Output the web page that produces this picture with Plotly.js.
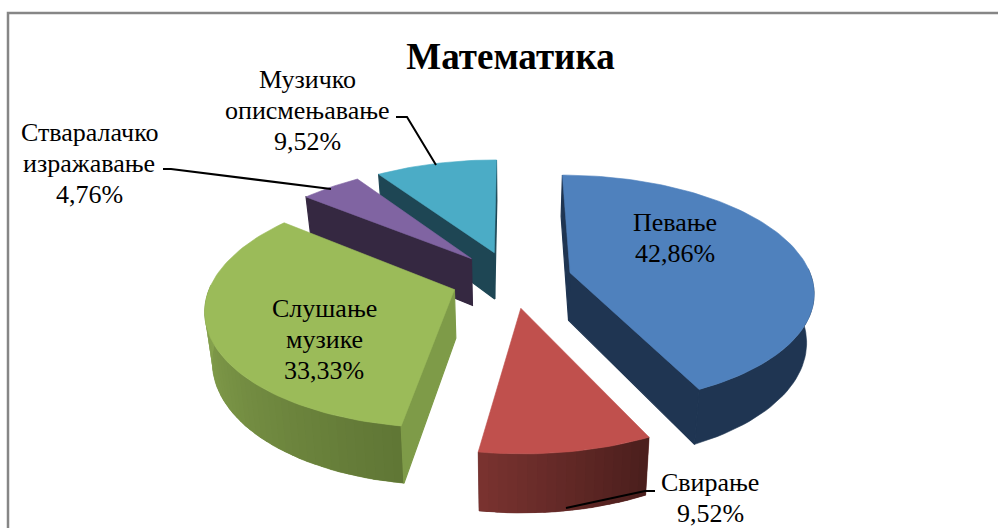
<!DOCTYPE html>
<html><head><meta charset="utf-8">
<script src="https://cdn.plot.ly/plotly-3.0.1.min.js"></script>
<style>html,body{margin:0;padding:0;background:#fff}#c{width:998px;height:528px}</style>
</head><body><div id="c"></div>
<script>
const categories = ["Певање","Свирање","Слушање музике","Музичко описмењавање","Стваралачко изражавање"];
const shares = [42.86, 9.52, 33.33, 9.52, 4.76];
const sliceOrder = [0, 1, 2, 4, 3];
const labelLines = [["Певање"],["Свирање"],["Слушање","музике"],["Музичко","описмењавање"],["Стваралачко","изражавање"]];

const topColors = ["#4F81BD","#C0504D","#9BBB59","#4BACC6","#8064A2"];
const wallColors = ["#1F3552","#5F2A28","#7E9B48","#1E4654","#352841"];
const rimFrom = ["#1F3552","#7A3330","#8AA650","#1E4654","#352841"];
const rimTo = ["#1F3552","#4A1E1C","#5F7635","#1E4654","#352841"];
const labelAt = [[675,222],[710,482],[324,308],[307,79],[89,132]];

// projection of the tilted, exploded disc into the plot's axes
const X0=511.5,Y0=279,RX=242,RY=114,K=0.15,DEPTH=48,EXPLODE=0.25,LINE=31;
const rad=d=>d*Math.PI/180;
function proj(u,v,z){const w=1+K*v,s=1-0.025*z;return [X0+RX*u/w*s,Y0-RY*v/w+DEPTH*z/w];}
function hex(c){return [1,3,5].map(i=>parseInt(c.substr(i,2),16));}
function mix(a,b,t){const A=hex(a),B=hex(b);return `rgb(${A.map((x,i)=>Math.round(x+(B[i]-x)*t)).join(",")})`;}
function poly(pts,color,lw){
  return {type:"scatter",mode:"lines",x:pts.map(p=>p[0]).concat(pts[0][0]),y:pts.map(p=>p[1]).concat(pts[0][1]),
    fill:"toself",fillcolor:color,line:{color:color,width:lw},hoverinfo:"skip",showlegend:false};
}
const total=shares.reduce((a,b)=>a+b,0);
let start=0;
const slices=sliceOrder.map(i=>{
  const a0=start,a1=start+shares[i]/total*360;start=a1;
  return {i,a0,a1};
});
const traces=[];
const paint=[3,4,2,0,1]; // far slices first, by category index
paint.forEach(idx=>{
  const s=slices.find(q=>q.i===idx);
  const mid=rad((s.a0+s.a1)/2);
  const cu=EXPLODE*Math.sin(mid),cv=EXPLODE*Math.cos(mid);
  const rim=(a)=>[cu+Math.sin(rad(a)),cv+Math.cos(rad(a))];
  // outer curved wall: a whole base piece, then shaded strips on it
  const lo=Math.max(s.a0,88),hi=Math.min(s.a1,272);
  if(hi>lo){
    const n=Math.max(6,Math.ceil((hi-lo)/2));
    const upper=[],lower=[];
    for(let k=0;k<=n;k++){const [u,v]=rim(lo+(hi-lo)*k/n);upper.push(proj(u,v,0));lower.unshift(proj(u,v,1));}
    traces.push(poly(upper.concat(lower),mix(rimFrom[idx],rimTo[idx],0.5),0.6));
    if(rimFrom[idx]!==rimTo[idx]){
      for(let k=0;k<n;k++){
        const b0=lo+(hi-lo)*k/n,b1=lo+(hi-lo)*(k+1.3)/n;
        const [u0,v0]=rim(b0),[u1,v1]=rim(Math.min(b1,hi));
        const t=1-(k+0.5)/n; // the shade darkens towards the right-hand end
        traces.push(poly([proj(u0,v0,0),proj(u1,v1,0),proj(u1,v1,1),proj(u0,v0,1)],mix(rimFrom[idx],rimTo[idx],t),0));
      }
    }
  }
  // radial walls facing the viewer
  [[s.a0,s.a0-90],[s.a1,s.a1+90]].forEach(([a,n])=>{
    if(Math.cos(rad(n))<0.01){
      const [u,v]=rim(a);
      traces.push(poly([proj(cu,cv,0),proj(u,v,0),proj(u,v,1),proj(cu,cv,1)],wallColors[idx],1.2));
    }
  });
  // top face
  const pts=[proj(cu,cv,0)];
  const n=Math.ceil((s.a1-s.a0)/1.5);
  for(let k=0;k<=n;k++){const [u,v]=rim(s.a0+(s.a1-s.a0)*k/n);pts.push(proj(u,v,0));}
  traces.push(poly(pts,topColors[idx],0.6));
});

const labels=[];
categories.forEach((c,i)=>{
  labelLines[i].concat(shares[i].toFixed(2).replace(".",",")+"%").forEach((line,j)=>{
    labels.push({x:labelAt[i][0],y:labelAt[i][1]+LINE*j,xref:"x",yref:"y",showarrow:false,align:"center",xanchor:"center",yanchor:"middle",
      text:line,font:{family:"Liberation Serif, serif",size:26,color:"#000"}});
  });
});
const seg=(d)=>({type:"path",path:d,xref:"x",yref:"y",line:{color:"#000",width:2}});
const layout={
  width:998,height:528,margin:{l:0,r:0,t:0,b:0},paper_bgcolor:"#fff",plot_bgcolor:"#fff",showlegend:false,
  xaxis:{range:[0,998],visible:false,fixedrange:true},
  yaxis:{range:[528,0],visible:false,fixedrange:true},
  title:{text:"<b>Математика</b>",font:{family:"Liberation Serif, serif",size:37,color:"#000"},x:510.5/998,xanchor:"center",y:1-56/528,yanchor:"middle"},
  annotations:labels,
  shapes:[
    {type:"path",path:"M 8 528 L 8 13 L 998 13",xref:"x",yref:"y",line:{color:"#868686",width:2.5}},
    seg("M 396 117 L 407 117 L 436 165"),
    seg("M 163 169 L 171 169 L 331 189"),
    seg("M 655 491 L 645 491 L 566 508")
  ]
};
Plotly.newPlot("c",traces,layout,{displayModeBar:false,staticPlot:true});
</script></body></html>
